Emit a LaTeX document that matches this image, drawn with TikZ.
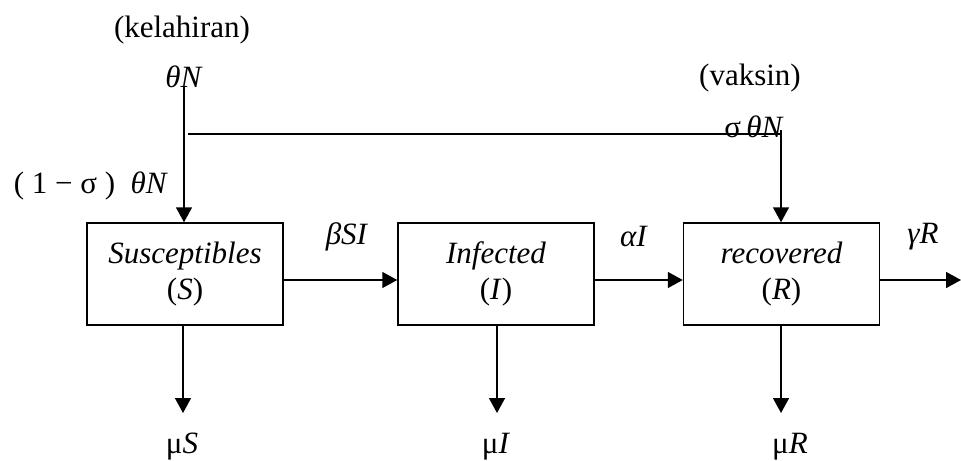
\documentclass[tikz,border=0pt]{standalone}
\usepackage{fontspec}
\setmainfont{Liberation Serif}
\usetikzlibrary{arrows.meta}
\begin{document}
\begin{tikzpicture}[x=0.5pt,y=-0.5pt,
  font=\fontsize{15.5pt}{18pt}\selectfont,
  every node/.style={inner sep=0pt},
  box/.style={draw,line width=0.75pt,minimum width=98pt,minimum height=51pt,align=center},
  flow/.style={line width=0.75pt,-{Triangle[length=7.5pt,width=8pt]}},
  plain/.style={line width=0.75pt},
  lbl/.style={anchor=center}]
\useasboundingbox (0,0) rectangle (961,460);
% boxes
\node[box] (S) at (185,274) {\textit{Susceptibles}\\(\textit{S})};
\node[box] (I) at (496,274) {\textit{Infected}\\(\textit{I})};
\node[box] (R) at (781.5,274) {\textit{recovered}\\(\textit{R})};
% top labels
\node[lbl] (kel) at (182,30) {(kelahiran)};
\node[lbl] (thN) at (184,77) {\textit{θN}};
\node[lbl] (vak) at (750,78) {(vaksin)};
\node[lbl] (sthN) at (754,127) {σ\,\textit{θN}};
\node[lbl] (onem) at (91,186) {( 1 − σ )\enspace\textit{θN}};
% flow labels
\node[lbl] (beta) at (347,237) {\textit{βSI}};
\node[lbl] (alpha) at (634,237) {\textit{αI}};
\node[lbl] (gamma) at (923,237) {\textit{γR}};
\node[lbl] (muS) at (182,447) {μ\textit{S}};
\node[lbl] (muI) at (496,447) {μ\textit{I}};
\node[lbl] (muR) at (790,447) {μ\textit{R}};
% coordinates
\coordinate (top) at (184,86);
\coordinate (br1) at (188,134);
\coordinate (br2) at (781,134);
\coordinate (sd) at (183,413);
\coordinate (id) at (497,413);
\coordinate (rd) at (781,413);
\coordinate (rout) at (961,280);
% connectors
\draw[flow] (top) -- (top |- S.north);
\draw[plain] (br1) -- (br2);
\draw[flow] ([yshift=2pt]br2) -- (br2 |- R.north);
\draw[flow] ([yshift=-3pt]S.east) -- ([yshift=-3pt]I.west);
\draw[flow] ([yshift=-3pt]I.east) -- ([yshift=-3pt]R.west);
\draw[flow] ([yshift=-3pt]R.east) -- (rout);
\draw[flow] (sd |- S.south) -- (sd);
\draw[flow] (id |- I.south) -- (id);
\draw[flow] (rd |- R.south) -- (rd);
\end{tikzpicture}
\end{document}
